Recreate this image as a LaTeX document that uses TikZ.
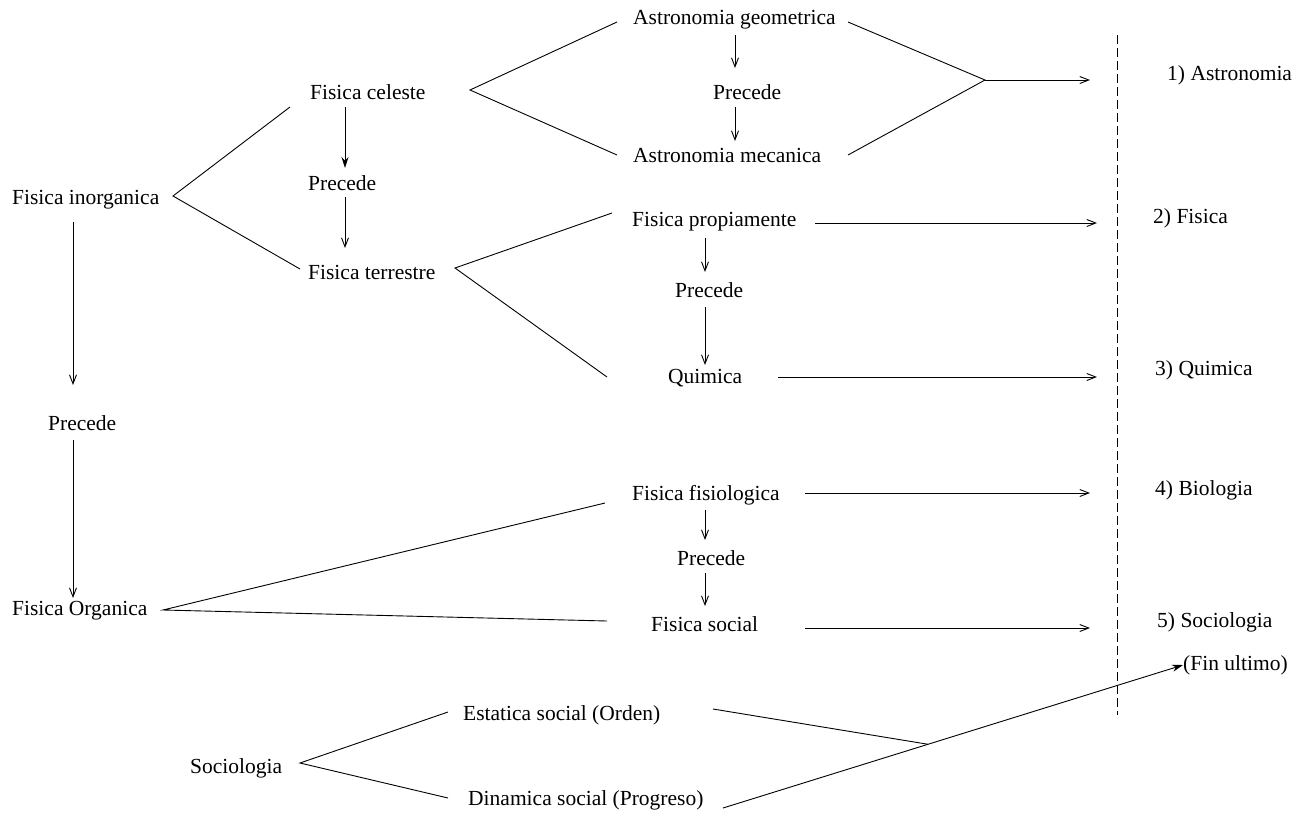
\documentclass[tikz,border=0pt]{standalone}
\usepackage{fontspec}
\setmainfont{Liberation Serif}
\usetikzlibrary{arrows.meta,calc}
\begin{document}
\begin{tikzpicture}[x=1pt,y=-1pt,
  lbl/.style={font=\fontsize{21.5}{24}\selectfont, inner sep=0pt, anchor=west},
  conn/.style={line width=0.9pt},
  openarr/.style={conn, -{Straight Barb[length=9pt,width=7pt]}},
  fillarr/.style={conn, -{Stealth[length=11pt,width=7pt]}},
  divider/.style={line width=0.9pt, dash pattern=on 9pt off 4pt}]
\useasboundingbox (0,0) rectangle (1300,814);

% ---- labels ----
\node[lbl] (geo)    at (633,20)  {Astronomia geometrica};
\node[lbl] (precA)  at (713,92)  {Precede};
\node[lbl] (mec)    at (633,155) {Astronomia mecanica};
\node[lbl] (cel)    at (310,92)  {Fisica celeste};
\node[lbl] (precCel) at (308,183) {Precede};
\node[lbl] (terr)   at (308,272) {Fisica terrestre};
\node[lbl] (inorg)  at (12,200)  {Fisica inorganica};
\node[lbl] (precL)  at (48,423)  {Precede};
\node[lbl] (org)    at (12,611)  {Fisica Organica};
\node[lbl] (fprop)  at (632,222) {Fisica propiamente};
\node[lbl] (precB)  at (675,290) {Precede};
\node[lbl] (quim)   at (668,378) {Quimica};
\node[lbl] (fisio)  at (632,495) {Fisica fisiologica};
\node[lbl] (precC)  at (677,558) {Precede};
\node[lbl] (fsoc)   at (651,624) {Fisica social};
\node[lbl] (estat)  at (463,715) {Estatica social (Orden)};
\node[lbl] (socio)  at (190,768) {Sociologia};
\node[lbl] (dinam)  at (468,800) {Dinamica social (Progreso)};
\node[lbl] (r1)     at (1167,75)  {1) Astronomia};
\node[lbl] (r2)     at (1153,218) {2) Fisica};
\node[lbl] (r3)     at (1155,370) {3) Quimica};
\node[lbl] (r4)     at (1155,490) {4) Biologia};
\node[lbl] (r5)     at (1157,622) {5) Sociologia};
\node[lbl] (fin)    at (1183,665) {(Fin ultimo)};

% ---- dashed divider ----
\coordinate (dtop) at (1117,35);
\coordinate (dbot) at (1117,715);
\draw[divider] (dtop) -- (dbot);

% ---- "Precede" chains ----
\draw[openarr] ($(geo.west)+(102,15)$) -- ($(precA.west)+(22,-24)$);
\draw[openarr] ($(precA.west)+(22,15)$) -- ($(mec.west)+(102,-14)$);

\draw[fillarr] ($(cel.west)+(35,15)$) -- ($(precCel.west)+(37,-15)$);
\draw[openarr] ($(precCel.west)+(37,14)$) -- ($(terr.west)+(37,-24)$);

\draw[openarr] ($(inorg.west)+(61,22)$) -- ($(precL.west)+(25,-38)$);
\draw[openarr] ($(precL.west)+(25,17)$) -- ($(org.west)+(61,-13)$);

\draw[openarr] ($(fprop.west)+(73,16)$) -- ($(precB.west)+(30,-18)$);
\draw[openarr] ($(precB.west)+(30,17)$) -- ($(quim.west)+(37,-13)$);

\draw[openarr] ($(fisio.west)+(73,15)$) -- ($(precC.west)+(28,-18)$);
\draw[openarr] ($(precC.west)+(28,15)$) -- ($(fsoc.west)+(54,-18)$);

% ---- branching forks ----
\draw[conn] ($(cel.west)+(-20,15)$) -- ($(inorg.west)+(161,-4)$) -- ($(terr.west)+(-8,-3)$);
\draw[conn] ($(fprop.west)+(-20,-9)$) -- ($(terr.west)+(147,-4)$) -- ($(quim.west)+(-61,-1)$);
\draw[conn] ($(geo.west)+(-16,2)$) -- ($(cel.west)+(160,-2)$) -- ($(mec.west)+(-16,0)$);
\draw[conn] ($(fisio.west)+(-27,8)$) -- ($(org.west)+(151,-1)$) -- ($(fsoc.west)+(-44,-3)$);
\draw[conn] ($(estat.west)+(-15,-3)$) -- ($(socio.west)+(110,-5)$) -- ($(dinam.west)+(-20,-2)$);

% ---- astronomy merge ----
\coordinate (amerge) at (985,80);
\draw[conn] ($(geo.west)+(215,2)$) -- (amerge) -- ($(mec.west)+(215,0)$);
\draw[openarr] (amerge) -- ($(amerge -| dtop)+(-27,0)$);

% ---- arrows to the divider ----
\coordinate (sprop) at ($(fprop.west)+(183,1)$);
\coordinate (squim) at ($(quim.west)+(110,-1)$);
\coordinate (sfisio) at ($(fisio.west)+(173,-2)$);
\coordinate (sfsoc) at ($(fsoc.west)+(154,4)$);
\draw[openarr] (sprop) -- ($(sprop -| dtop)+(-20,0)$);
\draw[openarr] (squim) -- ($(squim -| dtop)+(-20,0)$);
\draw[openarr] (sfisio) -- ($(sfisio -| dtop)+(-27,0)$);
\draw[openarr] (sfsoc) -- ($(sfsoc -| dtop)+(-27,0)$);

% ---- social statics / dynamics toward the end ----
\coordinate (dstart) at ($(dinam.west)+(255,8)$);
\coordinate (sjoin) at ($(dstart)!0.4457!(fin.west)$);
\draw[conn] ($(estat.west)+(250,-6)$) -- (sjoin);
\draw[fillarr] (dstart) -- (fin.west);
\end{tikzpicture}
\end{document}
